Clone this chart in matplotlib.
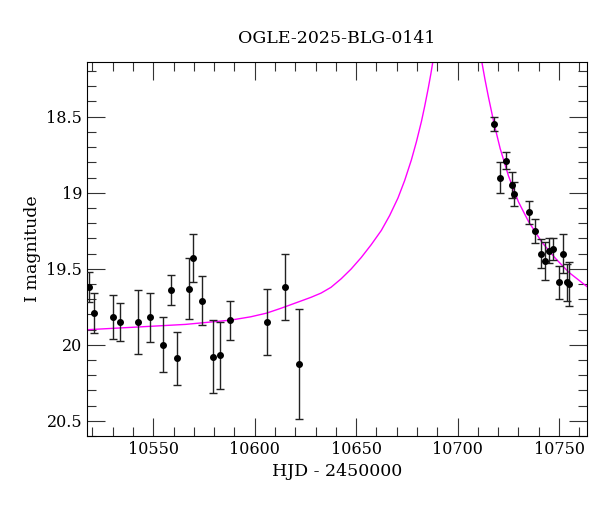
import numpy as np
import matplotlib
matplotlib.use("Agg")
import matplotlib.pyplot as plt
from matplotlib.ticker import MultipleLocator

# photometry (HJD - 2450000, I mag, error)
hjd = [10518.3, 10520.8, 10530.3, 10533.5, 10542.4, 10548.5, 10554.6,
       10558.6, 10561.5, 10567.7, 10569.8, 10573.8, 10579.5, 10582.7,
       10587.8, 10605.8, 10614.9, 10621.9,
       10717.8, 10720.9, 10723.8, 10726.7, 10727.9, 10735.0, 10738.0,
       10741.0, 10742.9, 10745.0, 10747.0, 10750.0, 10752.0, 10754.0,
       10755.0]
mag = [19.62, 19.79, 19.82, 19.85, 19.85, 19.82, 20.00,
       19.64, 20.09, 19.63, 19.43, 19.71, 20.08, 20.07,
       19.84, 19.85, 19.62, 20.125,
       18.546, 18.90, 18.79, 18.95, 19.01, 19.13, 19.25,
       19.40, 19.45, 19.38, 19.37, 19.59, 19.40, 19.59,
       19.60]
err = [0.10, 0.13, 0.145, 0.124, 0.21, 0.16, 0.18,
       0.10, 0.175, 0.20, 0.16, 0.16, 0.24, 0.22,
       0.13, 0.215, 0.215, 0.36,
       0.046, 0.105, 0.056, 0.086, 0.08, 0.073, 0.08,
       0.095, 0.124, 0.08, 0.07, 0.11, 0.127, 0.12,
       0.147]

# model curve (two branches, peak is off the top)
model_t_left = [10514.0, 10517.3, 10541.1, 10565.8, 10588.1, 10598.0, 10605.8,
                10612.9, 10622.8, 10627.7, 10632.7, 10637.6, 10642.6,
                10647.5, 10652.5, 10657.4, 10662.4, 10666.5, 10670.6,
                10673.9, 10677.2, 10679.7, 10682.2, 10683.8, 10685.5,
                10686.8, 10687.6, 10688.5]
model_m_left = [19.903, 19.901, 19.884, 19.866, 19.838, 19.816, 19.792,
                19.760, 19.712, 19.688, 19.660, 19.622, 19.566,
                19.502, 19.426, 19.342, 19.248, 19.150, 19.035,
                18.920, 18.785, 18.665, 18.530, 18.430, 18.315,
                18.220, 18.155, 18.070]
model_t_right = [10711.2, 10711.9, 10713.5, 10715.2, 10718.0, 10721.0,
                 10725.1, 10730.0, 10735.0, 10741.6, 10748.2, 10754.8,
                 10765.2]
model_m_right = [18.08, 18.136, 18.255, 18.370, 18.546, 18.710,
                 18.890, 19.060, 19.190, 19.326, 19.431, 19.523,
                 19.632]

xticks = [10550, 10600, 10650, 10700, 10750]
yticks = [18.5, 19.0, 19.5, 20.0, 20.5]
ytick_labels = ["18.5", "19", "19.5", "20", "20.5"]

plt.rcParams["font.family"] = "DejaVu Serif"

fig = plt.figure(figsize=(6, 5.12), dpi=100)
ax = fig.add_axes([0.145, 0.1484, 0.833, 0.7306])

ax.plot(model_t_left, model_m_left, color="#ff00ff", lw=1.0, zorder=2)
ax.plot(model_t_right, model_m_right, color="#ff00ff", lw=1.0, zorder=2)
ax.errorbar(hjd, mag, yerr=err, fmt="o", color="black", ecolor="#222222",
            ms=4, elinewidth=1.0, capsize=3, capthick=1.0, zorder=3)

ax.set_xlim(10517.3, 10763.7)
ax.set_ylim(20.6, 18.14)

ax.set_xticks(xticks)
ax.set_yticks(yticks)
ax.set_yticklabels(ytick_labels)
ax.xaxis.set_minor_locator(MultipleLocator(10))
ax.yaxis.set_minor_locator(MultipleLocator(0.1))
ax.tick_params(which="both", direction="in", top=True, right=True,
               labelsize=11.5, width=0.8, color="#333333")
ax.tick_params(which="major", length=13)
ax.tick_params(which="minor", length=6.5)

ax.set_title("OGLE-2025-BLG-0141", fontsize=12.5, pad=14)
ax.set_xlabel("HJD - 2450000", fontsize=12.5)
ax.set_ylabel("I magnitude", fontsize=12.5)

fig.savefig("out.png", dpi=100)
